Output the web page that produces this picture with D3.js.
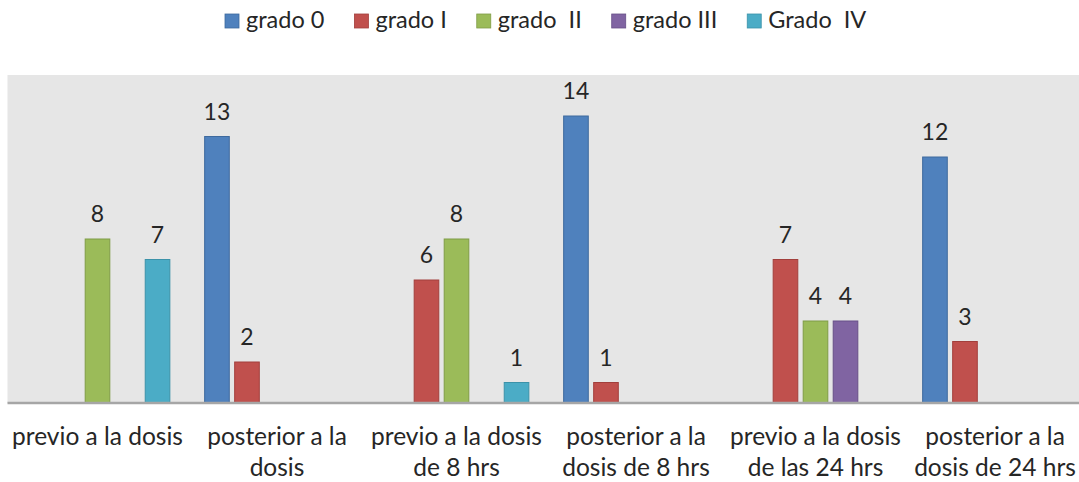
<!DOCTYPE html>
<html>
<head>
<meta charset="utf-8">
<script src="https://cdn.jsdelivr.net/npm/d3@7"></script>
<style>
  html, body { margin: 0; padding: 0; background: #ffffff; }
  svg { display: block; }
  text { font-family: Lato, "Open Sans", sans-serif; fill: #262626; }
</style>
</head>
<body>
<svg id="chart" width="1079" height="482"></svg>
<script>
// Category labels (each entry is the list of lines shown under the group)
const categories = [
  "previo a la dosis",
  "posterior a la dosis",
  "previo a la dosis de 8 hrs",
  "posterior a la dosis de 8 hrs",
  "previo a la dosis de las 24 hrs",
  "posterior a la dosis de 24 hrs"
];
const categoryLines = [
  ["previo a la dosis"],
  ["posterior a la", "dosis"],
  ["previo a la dosis", "de 8 hrs"],
  ["posterior a la", "dosis de 8 hrs"],
  ["previo a la dosis", "de las 24 hrs"],
  ["posterior a la", "dosis de 24 hrs"]
];

// Series names as shown in the legend
const seriesNames = ["grado 0", "grado I", "grado  II", "grado III", "Grado  IV"];

// Counts per category; null means no bar
const grado0   = [null, 13, null, 14, null, 12];
const grado1   = [null, 2, 6, 1, 7, 3];
const grado2   = [8, null, 8, null, 4, null];
const grado3   = [null, null, null, null, 4, null];
const grado4   = [7, null, 1, null, null, null];

const seriesValues = [grado0, grado1, grado2, grado3, grado4];
const seriesColors = ["#4F81BD", "#C0504D", "#9BBB59", "#8064A2", "#4BACC6"];
const seriesStrokes = ["#3E6A9E", "#A23F3C", "#7F9C46", "#674F87", "#3B92A9"];

const svg = d3.select("#chart");

const plot = { left: 7.5, top: 75, bottom: 403 };
const groupStep = 179.5;

const x0 = d3.scaleBand()
  .domain(categories)
  .range([plot.left + 0.25, plot.left + 0.25 + groupStep * categories.length])
  .paddingInner(0)
  .paddingOuter(0);

const x1 = d3.scaleBand()
  .domain(seriesNames)
  .range([0, x0.bandwidth()])
  .paddingInner(0.18)
  .paddingOuter(0.58);

const y = d3.scaleLinear()
  .domain([0, 16])
  .range([plot.bottom, plot.top]);

// Plot area background
svg.append("rect")
  .attr("x", plot.left)
  .attr("y", plot.top)
  .attr("width", 1079 - plot.left)
  .attr("height", plot.bottom - plot.top)
  .attr("fill", "#E6E6E6");

// Bars
const barData = [];
categories.forEach((c, ci) => {
  seriesNames.forEach((s, si) => {
    const v = seriesValues[si][ci];
    if (v !== null && v !== undefined) {
      barData.push({ category: c, series: s, si, value: v });
    }
  });
});

const bars = svg.append("g").attr("class", "bars");
bars.selectAll("rect")
  .data(barData)
  .join("rect")
  .attr("x", d => x0(d.category) + x1(d.series))
  .attr("y", d => y(d.value))
  .attr("width", x1.bandwidth())
  .attr("height", d => y(0) - y(d.value))
  .attr("fill", d => seriesColors[d.si])
  .attr("stroke", d => seriesStrokes[d.si])
  .attr("stroke-width", 1);

// Value labels
svg.append("g").attr("class", "values")
  .selectAll("text")
  .data(barData)
  .join("text")
  .attr("x", d => x0(d.category) + x1(d.series) + x1.bandwidth() / 2)
  .attr("y", d => y(d.value) - 17)
  .attr("text-anchor", "middle")
  .attr("font-size", 23)
  .text(d => d.value);

// Baseline (category axis)
const xAxis = d3.axisBottom(x0).tickSize(0).tickFormat("");
const axisG = svg.append("g")
  .attr("transform", `translate(0,${plot.bottom})`)
  .call(xAxis);
axisG.select(".domain")
  .attr("stroke", "#A6A6A6")
  .attr("stroke-width", 2.5)
  .attr("d", `M${plot.left},0H1079`);

// Category labels (multi-line)
const catG = svg.append("g").attr("class", "categories");
categories.forEach((c, ci) => {
  const cx = x0(c) + x0.bandwidth() / 2;
  const t = catG.append("text")
    .attr("text-anchor", "middle")
    .attr("font-size", 24.5);
  categoryLines[ci].forEach((line, li) => {
    t.append("tspan")
      .attr("x", cx)
      .attr("y", 445 + li * 31)
      .text(line);
  });
});

// Legend
const legend = svg.append("g").attr("class", "legend");
let lx = 225;
seriesNames.forEach((s, si) => {
  const item = legend.append("g");
  item.append("rect")
    .attr("x", lx)
    .attr("y", 14)
    .attr("width", 14)
    .attr("height", 14)
    .attr("fill", seriesColors[si])
    .attr("stroke", seriesStrokes[si])
    .attr("stroke-width", 0.8);
  const txt = item.append("text")
    .attr("x", lx + 21)
    .attr("y", 28)
    .attr("font-size", 23.5)
    .attr("xml:space", "preserve")
    .style("white-space", "pre")
    .text(s);
  const w = txt.node().getComputedTextLength();
  lx += 21 + w + 30;
});
</script>
</body>
</html>
